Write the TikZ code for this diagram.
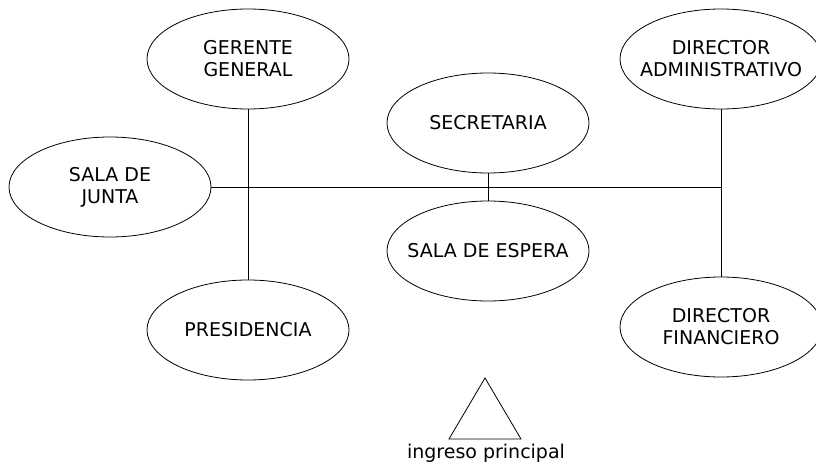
\documentclass[tikz,border=0pt]{standalone}
\usepackage{fontspec}
\setmainfont{DejaVu Sans}
\usetikzlibrary{shapes.geometric}
\tikzset{
  room/.style={draw, ellipse, minimum width=202pt, minimum height=100pt, inner xsep=-40pt, inner ysep=0pt, align=center, font=\fontsize{19}{22}\selectfont},
  wall/.style={draw, line width=0.8pt},
  lbl/.style={font=\fontsize{19}{22}\selectfont},
}
\begin{document}
\begin{tikzpicture}[x=1pt,y=-1pt, line width=0.8pt]
\useasboundingbox (0,0) rectangle (816,465);
\node[room] (ger) at (248,59) {GERENTE\\GENERAL};
\node[room] (jun) at (110,187) {SALA DE\\JUNTA};
\node[room] (sec) at (488,123) {SECRETARIA};
\node[room] (esp) at (488,251) {SALA DE ESPERA};
\node[room] (pre) at (248,330) {PRESIDENCIA};
\node[room] (adm) at (721,59) {DIRECTOR\\ADMINISTRATIVO};
\node[room] (fin) at (721,327) {DIRECTOR\\FINANCIERO};
\coordinate (j) at (adm.south |- jun.east);
\draw[wall] (jun.east) -- (j);
\draw[wall] (ger.south) -- (pre.north);
\draw[wall] (sec.south) -- (esp.north);
\draw[wall] (adm.south) -- (fin.north);
% entrada
\coordinate (ta) at (485,378);
\coordinate (tr) at (521,439);
\coordinate (tl) at (449,439);
\draw[wall] (ta) -- (tr) -- (tl) -- cycle;
\node[lbl] (ing) at (486,453) {ingreso principal};
\end{tikzpicture}
\end{document}
